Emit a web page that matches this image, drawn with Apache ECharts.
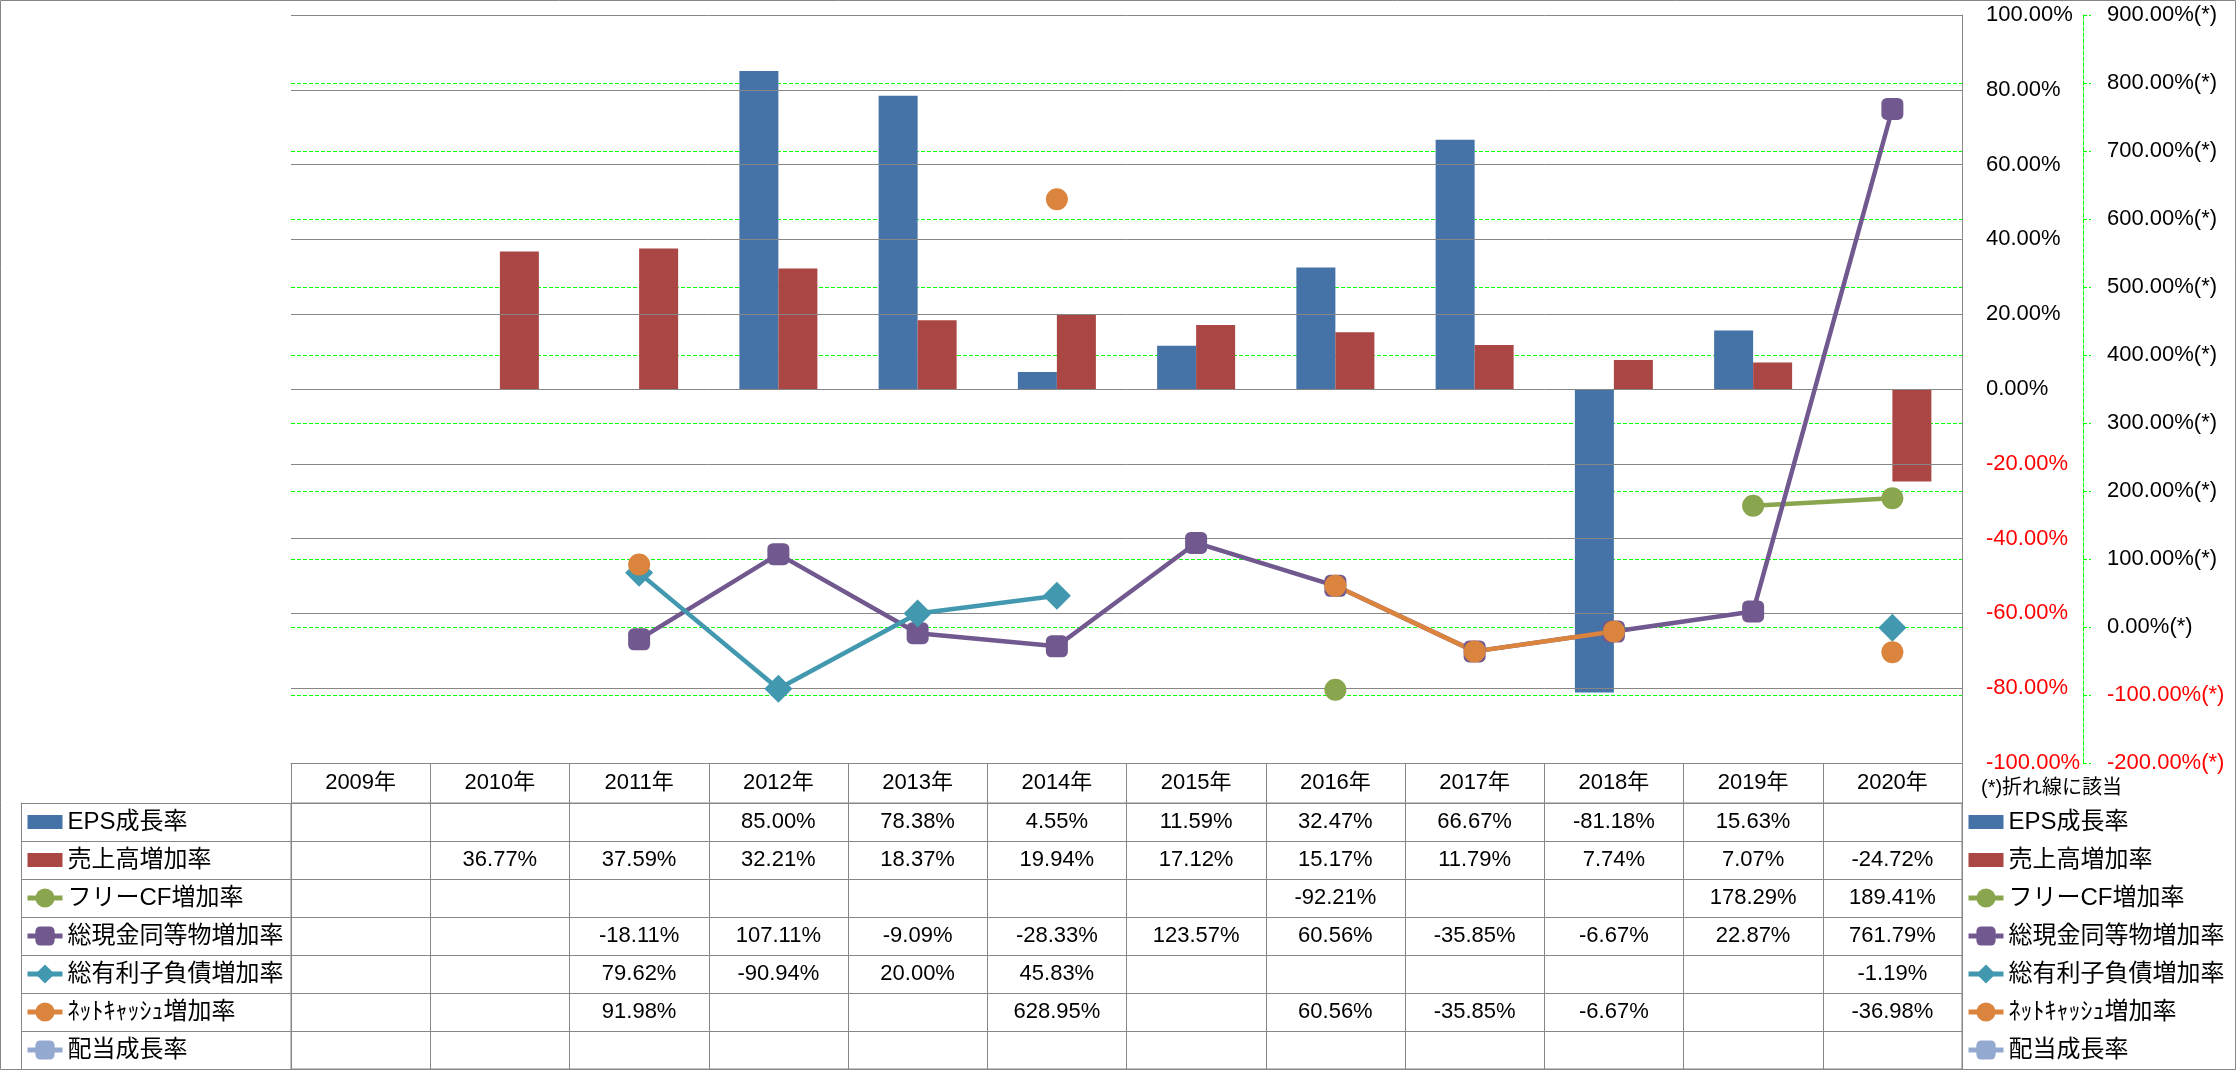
<!DOCTYPE html>
<html><head><meta charset="utf-8">
<script src="https://cdn.jsdelivr.net/npm/echarts@6/dist/echarts.min.js"></script>
<style>html,body{margin:0;padding:0;background:#fff}#c{width:2237px;height:1071px}</style>
</head><body><div id="c"></div>
<script>
// ---- data ----
const years = ['2009年','2010年','2011年','2012年','2013年','2014年','2015年','2016年','2017年','2018年','2019年','2020年'];
const seriesNames = ['EPS成長率','売上高増加率','フリーCF増加率','総現金同等物増加率','総有利子負債増加率','ﾈｯﾄｷｬｯｼｭ増加率','配当成長率'];
const epsGrowth      = [null,null,null,85.00,78.38,4.55,11.59,32.47,66.67,-81.18,15.63,null];
const salesGrowth    = [null,36.77,37.59,32.21,18.37,19.94,17.12,15.17,11.79,7.74,7.07,-24.72];
const freeCfGrowth   = [null,null,null,null,null,null,null,-92.21,null,null,178.29,189.41];
const cashGrowth     = [null,null,-18.11,107.11,-9.09,-28.33,123.57,60.56,-35.85,-6.67,22.87,761.79];
const debtGrowth     = [null,null,79.62,-90.94,20.00,45.83,null,null,null,null,null,-1.19];
const netCashGrowth  = [null,null,91.98,null,null,628.95,null,60.56,-35.85,-6.67,null,-36.98];
const dividendGrowth = [null,null,null,null,null,null,null,null,null,null,null,null];
const primaryAxis   = {min:-100, max:100, interval:20};
const secondaryAxis = {min:-200, max:900, interval:100};
const footnote = '(*)折れ線に該当';

// ---- styles ----
const FONT = "'Liberation Sans', 'Noto Sans CJK JP', sans-serif";
const GRAY = '#868686';
const GREEN = '#00FF00';
const colors = ['#4572A7','#AA4643','#89A54E','#71588F','#4198AF','#DB843D','#93A9CF'];
const allSeries = [epsGrowth, salesGrowth, freeCfGrowth, cashGrowth, debtGrowth, netCashGrowth, dividendGrowth];
const BAR_ICON = 'path://M0,0H32V13H0Z';

const tableData = [];
allSeries.forEach((arr, r) => arr.forEach((v, c) => { if (v !== null) tableData.push([c, r, v]); }));

const pctLabel = (suffix) => (v) => {
  const t = v.toFixed(2) + '%' + suffix;
  return v < 0 ? '{n|' + t + '}' : '{p|' + t + '}';
};
const richLabel = {
  n: {color:'#FF0000', fontSize:22, fontFamily:FONT},
  p: {color:'#000000', fontSize:22, fontFamily:FONT}
};

const legendCommon = {
  orient:'vertical', padding:0, itemGap:14, itemWidth:35, itemHeight:24, selectedMode:false,
  lineStyle:{width:5},
  textStyle:{fontSize:24, lineHeight:24, color:'#000', fontFamily:FONT},
  data: seriesNames.map((n, i) => i < 2 ? {name:n, icon:BAR_ICON} : {name:n})
};

const lineSymbols = ['circle','roundRect','diamond','circle','roundRect'];
const lineSizes = [22, 22, 28, 22, 22];

const series = [
  {name:seriesNames[0], type:'bar', xAxisIndex:0, yAxisIndex:0, data:epsGrowth, barWidth:39, barGap:'0%', itemStyle:{color:colors[0]}},
  {name:seriesNames[1], type:'bar', xAxisIndex:0, yAxisIndex:0, data:salesGrowth, barWidth:39, barGap:'0%', itemStyle:{color:colors[1]}}
];
for (let i = 2; i < 7; i++) {
  series.push({
    name:seriesNames[i], type:'line', xAxisIndex:0, yAxisIndex:1, data:allSeries[i],
    symbol:lineSymbols[i-2], symbolSize:lineSizes[i-2], showAllSymbol:true, connectNulls:false,
    lineStyle:{width:4.5, color:colors[i]}, itemStyle:{color:colors[i]}
  });
}
series.push({
  type:'custom', xAxisIndex:1, yAxisIndex:2, data:tableData, encode:{x:0, y:1}, silent:true,
  renderItem:(params, api) => {
    const p = api.coord([api.value(0), api.value(1)]);
    return {type:'text', x:p[0], y:p[1], style:{text: api.value(2).toFixed(2) + '%', align:'center', verticalAlign:'middle', fontSize:22, fontFamily:FONT, fill:'#000'}};
  }
});

const option = {
  animation:false,
  title:{text:footnote, left:1981, top:778, padding:0, textStyle:{fontSize:20, fontWeight:'normal', color:'#000', fontFamily:FONT}},
  legend:[Object.assign({left:25, top:810}, legendCommon), Object.assign({left:1966, top:810}, legendCommon)],
  grid:[
    {left:291, right:275, top:15, bottom:308},
    {left:291, right:275, top:803, bottom:2, show:true, borderColor:GRAY, borderWidth:1}
  ],
  xAxis:[
    {type:'category', gridIndex:0, data:years, position:'bottom',
     axisLine:{show:true, onZero:false, lineStyle:{color:GRAY, width:1}},
     axisTick:{show:true, length:40, inside:false, interval:0, lineStyle:{color:GRAY}},
     axisLabel:{show:true, interval:0, margin:9, fontSize:22, color:'#000', fontFamily:FONT},
     splitLine:{show:false}},
    {type:'category', gridIndex:1, data:years,
     axisLine:{show:false}, axisTick:{show:false}, axisLabel:{show:false},
     splitLine:{show:true, interval:0, lineStyle:{color:GRAY, width:1}}}
  ],
  yAxis:[
    {type:'value', gridIndex:0, position:'right', min:primaryAxis.min, max:primaryAxis.max, interval:primaryAxis.interval,
     axisLine:{show:true, lineStyle:{color:GRAY}}, axisTick:{show:false},
     axisLabel:{margin:24, formatter:pctLabel(''), rich:richLabel},
     splitLine:{show:true, lineStyle:{color:GRAY, width:1}}, z:3},
    {type:'value', gridIndex:0, position:'right', offset:121, min:secondaryAxis.min, max:secondaryAxis.max, interval:secondaryAxis.interval,
     axisLine:{show:true, lineStyle:{color:GREEN, type:[4,2], width:1}},
     axisTick:{show:true, inside:false, length:8, lineStyle:{color:GREEN, type:[4,2]}},
     axisLabel:{margin:24, formatter:pctLabel('(*)'), rich:richLabel},
     splitLine:{show:true, showMinLine:false, showMaxLine:false, lineStyle:{color:GREEN, type:[4,2], width:1}}, z:0},
    {type:'category', gridIndex:1, data:seriesNames, inverse:true, position:'left',
     axisLine:{show:false}, axisLabel:{show:false},
     axisTick:{show:true, inside:false, length:270, interval:0, lineStyle:{color:GRAY}},
     splitLine:{show:true, interval:0, lineStyle:{color:GRAY, width:1}}},
    {type:'category', gridIndex:1, data:seriesNames, inverse:true, position:'left', offset:270,
     axisLine:{show:true, lineStyle:{color:GRAY}}, axisLabel:{show:false}, axisTick:{show:false}, splitLine:{show:false}}
  ],
  graphic:[{type:'rect', shape:{x:0.5, y:0.5, width:2235, height:1069}, style:{fill:'none', stroke:GRAY, lineWidth:1}, silent:true}],
  series:series
};
const chart = echarts.init(document.getElementById('c'), null, {renderer:'canvas'});
chart.setOption(option);
</script></body></html>
